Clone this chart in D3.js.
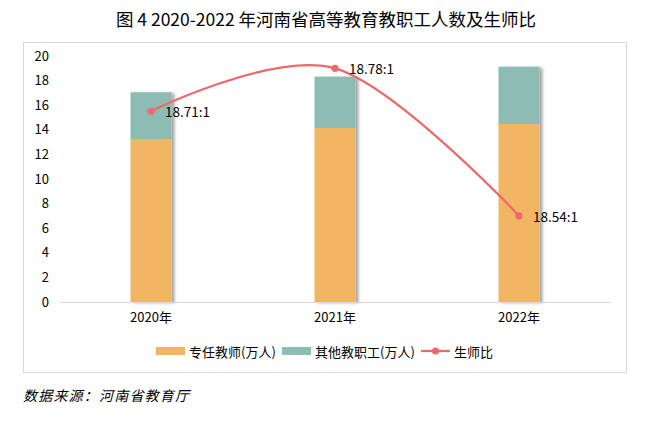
<!DOCTYPE html>
<html>
<head>
<meta charset="utf-8">
<script src="https://cdn.jsdelivr.net/npm/d3@7/dist/d3.min.js"></script>
<style>
  html, body { margin: 0; padding: 0; background: #ffffff; }
  svg { display: block; }
</style>
</head>
<body>
<svg id="chart" width="655" height="422"></svg>
<script>
// ---------- data ----------
const years = ["2020年", "2021年", "2022年"];
const fullTimeTeachers = [13.25, 14.15, 14.47];   // 专任教师(万人)
const otherStaff = [3.8, 4.17, 4.66];             // 其他教职工(万人)
const ratioValues = [18.71, 18.78, 18.54];        // 生师比
const ratioLabels = ["18.71:1", "18.78:1", "18.54:1"];
const yTicks = [0, 2, 4, 6, 8, 10, 12, 14, 16, 18, 20];
const seriesNames = ["专任教师(万人)", "其他教职工(万人)", "生师比"];
const titleText = "图 4 2020-2022 年河南省高等教育教职工人数及生师比";
const sourceText = "数据来源：河南省教育厅";

// ---------- style ----------
const colOrange = "#F1B563";
const colTeal = "#8CBCB3";
const colLine = "#EE6A6A";
const fontCJK = "'Noto Sans CJK SC', 'Noto Sans', sans-serif";

const svg = d3.select("#chart");

const defs = svg.append("defs");
const shadow = defs.append("filter").attr("id", "shadow")
  .attr("x", "-20%").attr("y", "-5%").attr("width", "150%").attr("height", "115%");
shadow.append("feDropShadow")
  .attr("dx", 3).attr("dy", 1).attr("stdDeviation", 1.4)
  .attr("flood-color", "#000").attr("flood-opacity", 0.35);

// title
svg.append("text")
  .attr("x", 326).attr("y", 18)
  .attr("text-anchor", "middle").attr("dominant-baseline", "central")
  .attr("font-family", "'Noto Sans CJK SC', sans-serif")
  .attr("font-size", 17.5).attr("fill", "#000")
  .text(titleText);

// frame
svg.append("rect")
  .attr("x", 23.5).attr("y", 42.5).attr("width", 603).attr("height", 330)
  .attr("fill", "none").attr("stroke", "#d9d9d9").attr("stroke-width", 1);

// scales
const plotLeft = 59, plotRight = 611, plotTop = 56, plotBottom = 302;
const x = d3.scaleBand().domain(years).range([plotLeft, plotRight]).paddingInner(0.777).paddingOuter(0.3885);
const y = d3.scaleLinear().domain([0, 20]).range([plotBottom, plotTop]);
const y2 = d3.scaleLinear().domain([18.4, 18.8]).range([plotBottom, plotTop]);
const xc = d => x(d) + x.bandwidth() / 2;

// y axis labels
const yAxis = d3.axisLeft(y).tickValues(yTicks).tickSize(0).tickPadding(10);
const gy = svg.append("g").attr("transform", `translate(${plotLeft},0)`).call(yAxis);
gy.select(".domain").remove();
gy.selectAll("text").attr("font-family", fontCJK).attr("font-size", 13).attr("fill", "#000");

// bars
const stacked = years.map((yr, i) => ({ yr, a: fullTimeTeachers[i], b: otherStaff[i] }));
const barG = svg.append("g");
const bars = barG.selectAll("g.bar").data(stacked).join("g").attr("class", "bar")
  .attr("filter", "url(#shadow)");
bars.append("rect")
  .attr("x", d => x(d.yr)).attr("width", x.bandwidth())
  .attr("y", d => y(d.a)).attr("height", d => y(0) - y(d.a))
  .attr("fill", colOrange);
bars.append("rect")
  .attr("x", d => x(d.yr)).attr("width", x.bandwidth())
  .attr("y", d => y(d.a + d.b)).attr("height", d => y(d.a) - y(d.a + d.b))
  .attr("fill", colTeal);

// x axis
const xAxis = d3.axisBottom(x).tickSize(0).tickPadding(11);
const gx = svg.append("g").attr("transform", `translate(0,${plotBottom})`).call(xAxis);
gx.select(".domain").attr("stroke", "#d9d9d9").attr("d", `M${plotLeft},0.5H${plotRight}`);
gx.selectAll("text").attr("font-family", fontCJK).attr("font-size", 13).attr("fill", "#000");

// ratio line
const linePts = years.map((yr, i) => [xc(yr), y2(ratioValues[i])]);
svg.append("path")
  .attr("d", d3.line().curve(d3.curveCardinal.tension(0))(linePts))
  .attr("fill", "none").attr("stroke", colLine).attr("stroke-width", 2.25)
  .attr("stroke-linecap", "round");
svg.selectAll("circle.pt").data(linePts).join("circle").attr("class", "pt")
  .attr("cx", d => d[0]).attr("cy", d => d[1]).attr("r", 3.6).attr("fill", colLine);
svg.selectAll("text.lbl").data(linePts).join("text").attr("class", "lbl")
  .attr("x", d => d[0] + 14).attr("y", d => d[1])
  .attr("dominant-baseline", "central")
  .attr("font-family", fontCJK).attr("font-size", 13.5).attr("fill", "#000")
  .text((d, i) => ratioLabels[i]);

// legend
const lg = svg.append("g").attr("font-family", fontCJK).attr("font-size", 13);
const legY = 351;
lg.append("rect").attr("x", 156).attr("y", legY - 4).attr("width", 29).attr("height", 8).attr("fill", colOrange);
lg.append("text").attr("x", 189).attr("y", legY).attr("dominant-baseline", "central").text(seriesNames[0]);
lg.append("rect").attr("x", 282).attr("y", legY - 4).attr("width", 29).attr("height", 8).attr("fill", colTeal);
lg.append("text").attr("x", 315).attr("y", legY).attr("dominant-baseline", "central").text(seriesNames[1]);
lg.append("line").attr("x1", 421).attr("x2", 450).attr("y1", legY).attr("y2", legY)
  .attr("stroke", colLine).attr("stroke-width", 2.25);
lg.append("circle").attr("cx", 435.5).attr("cy", legY).attr("r", 3.6).attr("fill", colLine);
lg.append("text").attr("x", 454).attr("y", legY).attr("dominant-baseline", "central").text(seriesNames[2]);

// source
svg.append("text")
  .attr("x", 23).attr("y", 395).attr("dominant-baseline", "central")
  .attr("font-family", fontCJK).attr("font-size", 14).attr("font-style", "italic")
  .attr("letter-spacing", 1.2).attr("fill", "#000")
  .text(sourceText);
</script>
</body>
</html>
